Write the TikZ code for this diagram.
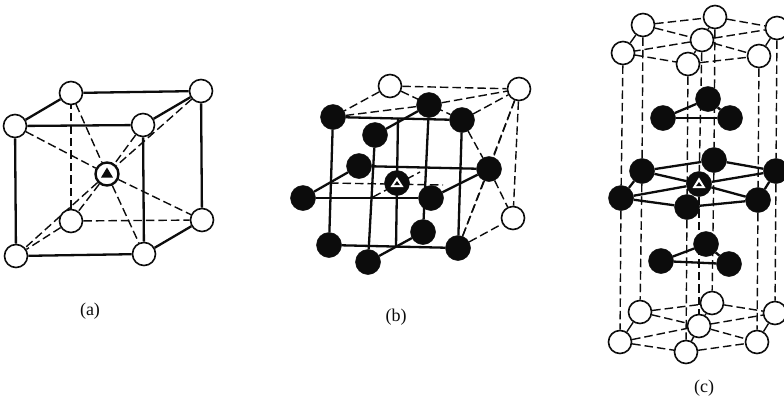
\documentclass[tikz,border=0pt]{standalone}
\usepackage{fontspec}
\setmainfont{Liberation Serif}
\usetikzlibrary{backgrounds}
\definecolor{ink}{HTML}{0C0C0C}
\tikzset{
  wa/.style={circle,draw=ink,fill=white,line width=1.6pt,minimum size=23pt,inner sep=0pt},
  bk/.style={circle,draw=ink,fill=ink,line width=0.5pt,minimum size=25pt,inner sep=0pt},
  solidl/.style={draw=ink,line width=2.3pt},
  thinl/.style={draw=ink,line width=1.4pt},
  dashl/.style={draw=ink,line width=1.4pt,dash pattern=on 8.5pt off 4pt},
  lbl/.style={font=\fontsize{18}{20}\selectfont,text=ink,inner sep=0pt}
}
\begin{document}
\begin{tikzpicture}[x=1pt,y=-1pt]
\useasboundingbox (0,0) rectangle (784,400);
% (a)
\node[wa] (a1) at (71,93) {};
\node[wa] (a2) at (201,91) {};
\node[wa] (a3) at (15,126) {};
\node[wa] (a4) at (143,125) {};
\node[wa] (a5) at (71,221) {};
\node[wa] (a6) at (202,220) {};
\node[wa] (a7) at (16,256) {};
\node[wa] (a8) at (144,254) {};
\node[wa,line width=2.4pt] (ac) at (107,174) {};
\fill[ink] (ac.center) +(0,-6.5) -- +(6,3.5) -- +(-6,3.5) -- cycle;
\node[lbl] (la) at (90,311) {(a)};
% (b)
\node[wa] (b1) at (390,86) {};
\node[wa] (b2) at (519,89) {};
\node[wa] (b3) at (513,218) {};
\node[bk] (b4) at (429,105) {};
\node[bk] (b5) at (333,117) {};
\node[bk] (b6) at (462,120) {};
\node[bk] (b7) at (375,135) {};
\node[bk] (b8) at (359,166) {};
\node[bk] (b9) at (489,169) {};
\node[bk] (b10) at (303,198) {};
\node[bk] (b11) at (431,198) {};
\node[bk] (b12) at (329,245) {};
\node[bk] (b13) at (423,232) {};
\node[bk] (b14) at (458,248) {};
\node[bk] (b15) at (368,262) {};
\node[bk] (bc) at (397,183) {};
\fill[white] (bc.center) +(0,-6) -- +(6.5,4) -- +(-6.5,4) -- cycle;
\fill[ink] (bc.center) +(0,-2) -- +(2.8,2) -- +(-2.8,2) -- cycle;
\coordinate (bt) at (398,118);
\coordinate (bb) at (396,247);
\coordinate (bl) at (330,183);
\coordinate (br) at (443,185);
\coordinate (bd1) at (373,197);
\coordinate (bd2) at (420,172);
\node[lbl] (lb) at (396,317) {(b)};
% (c)
\node[wa] (t1) at (643,25) {};
\node[wa] (t2) at (715,17) {};
\node[wa] (t3) at (777,28) {};
\node[wa] (t4) at (702,40) {};
\node[wa] (t5) at (623,53) {};
\node[wa] (t6) at (759,56) {};
\node[wa] (t7) at (688,64) {};
\node[bk] (u1) at (708,99) {};
\node[bk] (u2) at (663,118) {};
\node[bk] (u3) at (730,118) {};
\node[bk] (m1) at (642,171) {};
\node[bk] (m2) at (714,160) {};
\node[bk] (m3) at (776,171) {};
\node[bk] (m4) at (621,198) {};
\node[bk] (m5) at (687,207) {};
\node[bk] (m6) at (758,200) {};
\node[bk] (cc) at (699,184) {};
\fill[white] (cc.center) +(0,-6.5) -- +(6.5,4) -- +(-6.5,4) -- cycle;
\fill[ink] (cc.center) +(0,-2) -- +(2.8,2) -- +(-2.8,2) -- cycle;
\node[bk] (v1) at (706,244) {};
\node[bk] (v2) at (661,261) {};
\node[bk] (v3) at (729,264) {};
\node[wa] (d1) at (640,312) {};
\node[wa] (d2) at (712,303) {};
\node[wa] (d3) at (775,313) {};
\node[wa] (d4) at (699,326) {};
\node[wa] (d5) at (620,342) {};
\node[wa] (d6) at (757,342) {};
\node[wa] (d7) at (686,352) {};
\node[lbl] (lc) at (704,388) {(c)};
\begin{pgfonlayer}{background}
\fill[white] (0,0) rectangle (784,400);
% (a) connectors
\foreach \p/\q in {a1/a2,a3/a1,a3/a4,a4/a2,a3/a7,a4/a8,a2/a6,a7/a8,a8/a6}
  \draw[solidl] (\p) -- (\q);
\foreach \p/\q in {a5/a6,a5/a1,a5/a7,a3/ac,ac/a6,a1/ac,ac/a8,a4/ac,ac/a5,a2/ac,ac/a7}
  \draw[dashl] (\p) -- (\q);
% (b) connectors
\foreach \p/\q in {b5/b6,b4/b7,b5/b12,b6/b14,b4/b13,b7/b15,b8/b9,b8/b10,b10/b11,b11/b9,b12/b14,b15/b13,bt/bb}
  \draw[solidl] (\p) -- (\q);
\foreach \p/\q in {b1/b5,b1/b2,b1/b6,b5/b4,b4/b2,b6/b2,b2/b9,b2/b3,b6/b9,b9/b3,b9/b14,b14/b3,b14/b2,bl/br,bd1/bd2}
  \draw[dashl] (\p) -- (\q);
% (c) connectors
\foreach \p/\q in {u1/u2,u2/u3,u1/u3,m1/m2,m2/m3,m1/cc,cc/m3,m4/m1,m4/m5,m5/m6,m6/m3,m4/cc,cc/m6,v1/v2,v2/v3,v1/v3}
  \draw[solidl] (\p) -- (\q);
\foreach \p/\q in {t1/t5,t4/t7,t2/t4,t3/t6,d5/d1,d7/d4,d4/d2,d6/d3}
  \draw[thinl] (\p) -- (\q);
\foreach \p/\q in {t1/t2,t2/t3,t1/t4,t4/t3,t4/t5,t4/t6,t5/t7,t7/t6,t5/m4,t1/m1,t7/m5,t4/cc,t2/m2,t6/m6,t3/m3,m4/d5,m1/d1,m5/d7,cc/d4,m2/d2,m6/d6,m3/d3,d1/d2,d2/d3,d1/d4,d4/d3,d5/d4,d4/d6,d5/d7,d7/d6}
  \draw[dashl] (\p) -- (\q);
\end{pgfonlayer}
\end{tikzpicture}
\end{document}
